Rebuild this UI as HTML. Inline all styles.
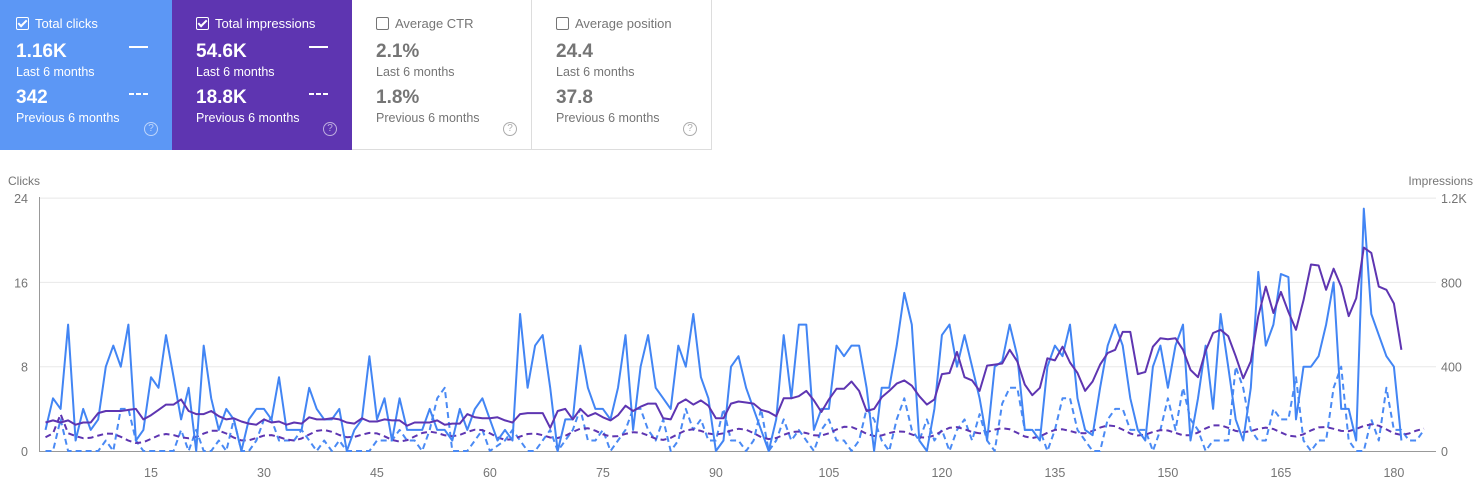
<!DOCTYPE html>
<html><head><meta charset="utf-8"><style>
body{margin:0;width:1482px;height:500px;background:#fff;font-family:"Liberation Sans",Arial,sans-serif;overflow:hidden;position:relative}
.card{position:absolute;top:0;height:150px;width:180px;box-sizing:border-box}
.c1{left:0;width:172px;background:#5c97f5;color:#fff}
.c2{left:172px;background:#5e35b1;color:#fff}
.c3{left:352px;border-right:1px solid #ddd;border-bottom:1px solid #ddd;color:#757575}
.c4{left:532px;border-right:1px solid #ddd;border-bottom:1px solid #ddd;color:#757575}
.t{position:absolute;top:16px;left:16px;font-size:13px}
.c2 .t,.c2 .v,.c2 .s,.c3 .t,.c3 .v,.c3 .s,.c4 .t,.c4 .v,.c4 .s{left:24px}
.cb{display:inline-block;width:11px;height:11px;border:1.5px solid currentColor;border-radius:2px;vertical-align:-2px;margin-right:6px;position:relative}
.cb.on:after{content:"";position:absolute;left:3px;top:0px;width:3px;height:7px;border:solid currentColor;border-width:0 2px 2px 0;transform:rotate(45deg)}
.v{position:absolute;left:16px;font-size:19px;font-weight:bold}
.s{position:absolute;left:16px;font-size:12.5px}
.c3 .v,.c4 .v{color:#757575}
.ln{position:absolute;left:129px;width:19px;height:0;border-top:2px solid #fff}
.dd{position:absolute;left:129px;width:19px;height:2px;background:repeating-linear-gradient(90deg,#fff 0 5px,transparent 5px 7px)}
.q{position:absolute;left:144px;top:122px;width:12px;height:12px;border:1.5px solid currentColor;border-radius:50%;font-size:10px;text-align:center;line-height:12px;opacity:.6}
</style></head><body>
<div class="card c1"><div class="t"><span class="cb on"></span>Total clicks</div>
<div class="v" style="top:41px">1.16K</div><div class="s" style="top:65px">Last 6 months</div>
<div class="v" style="top:87px">342</div><div class="s" style="top:111px">Previous 6 months</div>
<div class="ln" style="top:46px"></div><div class="dd" style="top:93px"></div><div class="q">?</div></div>
<div class="card c2"><div class="t"><span class="cb on"></span>Total impressions</div>
<div class="v" style="top:41px">54.6K</div><div class="s" style="top:65px">Last 6 months</div>
<div class="v" style="top:87px">18.8K</div><div class="s" style="top:111px">Previous 6 months</div>
<div class="ln" style="top:46px;left:137px"></div><div class="dd" style="top:93px;left:137px"></div><div class="q" style="left:151px">?</div></div>
<div class="card c3"><div class="t"><span class="cb"></span>Average CTR</div>
<div class="v" style="top:41px">2.1%</div><div class="s" style="top:65px">Last 6 months</div>
<div class="v" style="top:87px">1.8%</div><div class="s" style="top:111px">Previous 6 months</div><div class="q" style="left:151px">?</div></div>
<div class="card c4"><div class="t"><span class="cb"></span>Average position</div>
<div class="v" style="top:41px">24.4</div><div class="s" style="top:65px">Last 6 months</div>
<div class="v" style="top:87px">37.8</div><div class="s" style="top:111px">Previous 6 months</div><div class="q" style="left:151px">?</div></div>
<svg id="ch" width="1482" height="350" style="position:absolute;left:0;top:150px" font-family="Liberation Sans, Arial, sans-serif" font-size="12" fill="#757575"></svg>
<script>
var C=[2,5,4,12,1,4,2,3,8,10,8,12,1,2,7,6,11,7,3,6,0,10,5,2,4,3,0,3,4,4,3,7,2,2,2,6,4,3,3,4,0,2,3,9,3,5,1,5,2,2,2,4,2,2,1,4,2,4,5,3,1,2,1,13,6,10,11,6,0,3,3,10,6,4,4,3,6,11,2,8,11,6,5,4,10,8,13,7,5,0,1,8,9,6,4,2,0,3,11,5,12,12,2,4,4,10,9,10,10,6,0,6,6,10,15,12,1,0,4,11,12,8,11,8,5,1,8,8.5,12,9,2,2,1,8,10,9,12,5,2,1.5,6,10,12,10,5,2,1,8,10,6,10,12,1,5,10,4,13,8,3,1,6,17,10,12,16.8,16.5,3,8,8,9,12,16,4,4,1,23,13,11,9,8,1];
var I=[2.7,2.9,2.7,2.9,2.5,2.7,2.7,3.6,3.8,3.8,3.8,3.9,4.0,3.0,3.4,3.9,4.4,4.4,4.9,3.8,3.5,3.5,3.8,3.3,3.0,3.1,2.8,2.6,2.5,3.0,2.7,2.8,2.5,2.7,2.6,3.2,3.0,3.0,3.1,3.0,2.7,2.6,3.1,2.8,2.8,3.0,2.9,2.9,2.4,2.7,2.7,2.7,2.9,2.5,2.6,2.6,3.5,3.2,3.1,3.1,3.2,2.9,2.7,3.5,3.6,3.6,3.6,2.2,3.8,4.0,3.0,4.0,3.3,3.6,3.2,2.9,3.4,4.3,3.8,4.2,4.5,4.5,3.1,3.0,4.5,4.9,4.4,4.8,4.3,3.1,3.1,4.5,4.7,4.6,4.5,3.9,3.7,3.3,5.0,5.0,5.2,5.7,4.8,3.7,4.9,5.9,5.9,6.6,5.7,3.8,4.0,5.1,5.7,6.4,6.7,6.2,5.2,4.4,4.9,7.3,7.4,9.4,7.0,6.7,5.7,8.1,8.2,8.3,9.6,8.5,6.3,5.3,6.0,8.8,8.6,9.9,8.4,7.4,5.7,6.6,8.2,9.3,9.6,11.3,11.3,7.3,7.5,9.9,10.7,10.6,10.7,9.6,7.7,7.0,9.5,11.2,11.5,10.9,9.0,6.9,8.5,12.8,15.6,13.1,15.1,13.2,11.5,14.3,17.7,17.6,15.3,17.3,15.6,12.8,14.5,19.3,18.8,15.6,15.3,14.0,9.6];
var P=[0,0,3,0,0,0,0,0,1,0,4,4,1,0,0,0,0,0,2,0,2,0,0,1,0,3,0,0,1,3,3,1,1,1,2,1,0,1,0,1,0,0,0,0,1,1,1,2,1,1,0,2,5,6,0,0,0,1,2,0,0.5,1,2,1,0,0,1,2,0,1,2,4,1,1,2,0,1,2,4,4,2,1,3,0,1,4,2,3,1,1,4,1,1,0,1,4,0,1,3,1,2,1,0,2,3,1,1,0,1,4,3,1,0,3,5,2,1,3,1,2,0,2,3,1,3.5,1,0,4.5,6,6,2,2,2,0,2,5,5,2,1,0,0,3,4,4,2,2,2,0,2,5,2,6,3,2,0,1,1,1,8,6,2,1,1,4,3,3,7,1,0,1,1,6,8,1,0,0,3,1,6,2,2,1,1,2];
var Q=[];for(var i=0;i<184;i++){var b=1.3+i*0.004+0.35*Math.sin(i*0.9)+0.25*Math.sin(i*0.37);if(i==2)b=3.5;Q.push(b);}
var s=document.getElementById('ch'),h='',x0=45.5,dx=7.533,y0=301,k=84.3/8;
function X(i){return x0+i*dx}function Y(v){return y0-v*k}
[0,8,16,24].forEach(function(v,j){var y=Y(v);if(v>0)h+='<line x1="39" x2="1436" y1="'+y+'" y2="'+y+'" stroke="#e8e8e8"/>';
h+='<text x="28" y="'+(y+5)+'" text-anchor="end" font-size="12.5">'+v+'</text>';
h+='<text x="1441" y="'+(y+5)+'" font-size="12.5">'+['0','400','800','1.2K'][j]+'</text>';});
h+='<text x="8" y="35">Clicks</text><text x="1473" y="35" text-anchor="end">Impressions</text>';
h+='<line x1="39.5" x2="39.5" y1="47" y2="301" stroke="#999"/><line x1="39" x2="1436" y1="301.5" y2="301.5" stroke="#999"/>';
[15,30,45,60,75,90,105,120,135,150,165,180].forEach(function(d){h+='<text x="'+X(d-1)+'" y="327" text-anchor="middle" font-size="12.5">'+d+'</text>'});
function pl(a,c,d){var p=a.map(function(v,i){return X(i).toFixed(1)+','+Y(v).toFixed(1)}).join(' ');
return '<polyline points="'+p+'" fill="none" stroke="'+c+'" stroke-width="2"'+(d?' stroke-dasharray="6,4"':'')+' stroke-linejoin="round"/>'}
h+=pl(P,'#4a8af4',1)+pl(Q,'#5e35b1',1)+pl(C,'#4285f4',0)+pl(I,'#5e35b1',0);
s.innerHTML=h;
</script>
</body></html>
